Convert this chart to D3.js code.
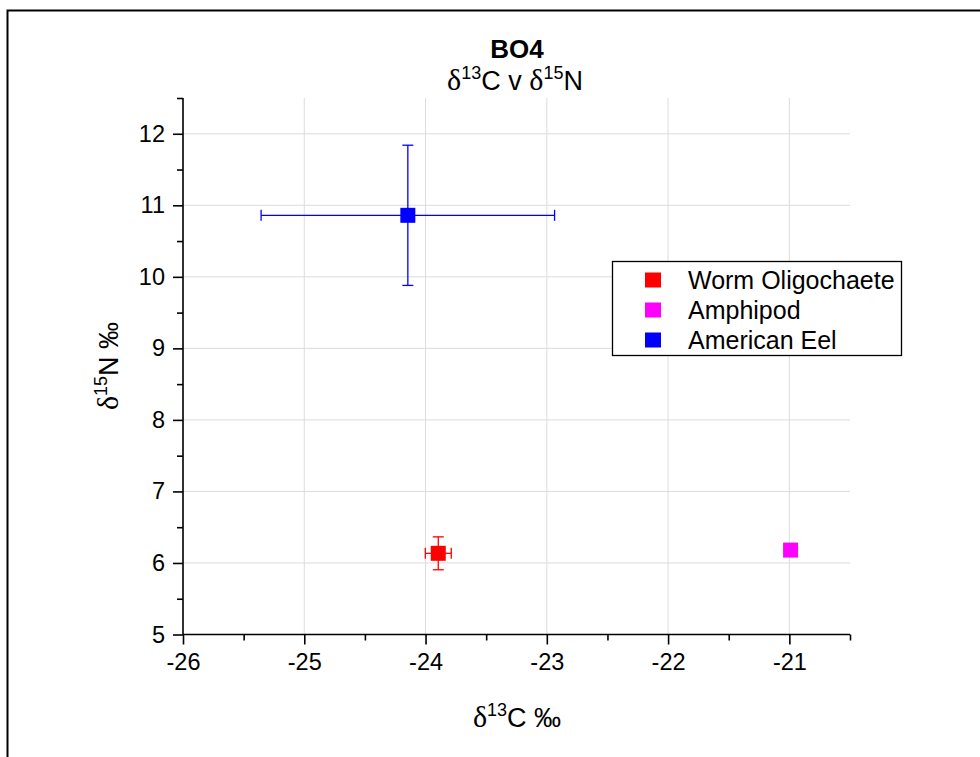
<!DOCTYPE html>
<html><head><meta charset="utf-8">
<script src="https://cdn.jsdelivr.net/npm/d3@7"></script>
<style>body{margin:0;background:#fff}svg{display:block;font-family:"Liberation Sans",Arial,sans-serif}</style>
</head><body>
<svg id="c" width="980" height="757"></svg>
<script>
const series = ["Worm Oligochaete", "Amphipod", "American Eel"];
const colors = ["#ff0000", "#ff00ff", "#0000ff"];
const xMean = [-23.895, -20.99, -24.146];
const yMean = [6.135, 6.18, 10.86];
const xErr = [0.107, 0, 1.21];
const yErr = [0.23, 0, 0.98];
const xTicks = [-26, -25, -24, -23, -22, -21];
const yTicks = [5, 6, 7, 8, 9, 10, 11, 12];

const svg = d3.select("#c");
const L = 183, R = 850, T = 98, B = 634.5;
const x = d3.scaleLinear().domain([-26, -20.5]).range([L, R]);
const y = d3.scaleLinear().domain([5, 12.5]).range([B, T]);

// outer frame
svg.append("rect").attr("x", 7.5).attr("y", 10.5).attr("width", 1000).attr("height", 800)
  .attr("fill", "none").attr("stroke", "#000").attr("stroke-width", 2);

// grid
const g = svg.append("g");
g.selectAll(".vg").data(xTicks).enter().append("line")
  .attr("x1", d => x(d)).attr("x2", d => x(d)).attr("y1", T).attr("y2", B)
  .attr("stroke", "#dcdcdc").attr("stroke-width", 1);
g.selectAll(".hg").data(yTicks).enter().append("line")
  .attr("y1", d => y(d)).attr("y2", d => y(d)).attr("x1", L).attr("x2", R)
  .attr("stroke", "#dcdcdc").attr("stroke-width", 1);

// axes
const fmt = d => String(d);
const xMinor = d3.range(-25.5, -20.4, 1);
const yMinor = d3.range(5.5, 12.6, 1);
const xAxis = svg.append("g").attr("transform", `translate(0,${B})`)
  .call(d3.axisBottom(x).tickValues(xTicks).tickSize(10).tickPadding(9).tickFormat(fmt));
svg.append("g").attr("transform", `translate(0,${B})`)
  .call(d3.axisBottom(x).tickValues(xMinor).tickSize(6).tickFormat(""))
  .select(".domain").remove();
const yAxis = svg.append("g").attr("transform", `translate(${L},0)`)
  .call(d3.axisLeft(y).tickValues(yTicks).tickSize(10).tickPadding(8).tickFormat(fmt));
svg.append("g").attr("transform", `translate(${L},0)`)
  .call(d3.axisLeft(y).tickValues(yMinor).tickSize(6).tickFormat(""))
  .select(".domain").remove();
xAxis.select(".domain").attr("d", `M${L},0H${R}`);
yAxis.select(".domain").attr("d", `M0,${B}V${T}`);
svg.selectAll(".domain, .tick line").attr("stroke", "#000").attr("stroke-width", 1.6);
svg.selectAll(".tick text").attr("font-size", 23.5).attr("fill", "#000")
  .attr("font-family", "Liberation Sans, Arial, sans-serif");

// error bars
const eb = svg.append("g");
const cap = 5.5;
series.forEach((s, i) => {
  if (yErr[i] > 0) {
    const cx = x(xMean[i]);
    eb.append("line").attr("x1", cx).attr("x2", cx).attr("y1", y(yMean[i] - yErr[i])).attr("y2", y(yMean[i] + yErr[i]))
      .attr("stroke", colors[i]).attr("stroke-width", 1.3);
    [yMean[i] - yErr[i], yMean[i] + yErr[i]].forEach(v => {
      eb.append("line").attr("x1", cx - cap).attr("x2", cx + cap).attr("y1", y(v)).attr("y2", y(v))
        .attr("stroke", colors[i]).attr("stroke-width", 1.3);
    });
  }
  if (xErr[i] > 0) {
    const cy = y(yMean[i]);
    eb.append("line").attr("y1", cy).attr("y2", cy).attr("x1", x(xMean[i] - xErr[i])).attr("x2", x(xMean[i] + xErr[i]))
      .attr("stroke", colors[i]).attr("stroke-width", 1.3);
    [xMean[i] - xErr[i], xMean[i] + xErr[i]].forEach(v => {
      eb.append("line").attr("y1", cy - cap).attr("y2", cy + cap).attr("x1", x(v)).attr("x2", x(v))
        .attr("stroke", colors[i]).attr("stroke-width", 1.3);
    });
  }
});

// markers
const ms = 15;
svg.append("g").selectAll("rect").data(series).enter().append("rect")
  .attr("x", (d, i) => x(xMean[i]) - ms / 2).attr("y", (d, i) => y(yMean[i]) - ms / 2)
  .attr("width", ms).attr("height", ms).attr("fill", (d, i) => colors[i]);

// titles
svg.append("text").attr("x", 517).attr("y", 58).attr("text-anchor", "middle")
  .attr("font-size", 26).attr("font-weight", "bold").text("BO4");
function deltaText(sel, iso, rest, fs) {
  sel.append("tspan").attr("font-family", "Liberation Serif, serif").attr("font-size", fs + 3).text("δ");
  sel.append("tspan").attr("font-size", Math.round(fs * 0.65)).attr("dy", -fs * 0.42).text(iso);
  sel.append("tspan").attr("dy", fs * 0.42).text(rest);
}
const sub = svg.append("text").attr("x", 515).attr("y", 90).attr("text-anchor", "middle").attr("font-size", 27);
deltaText(sub, "13", "C v ", 27);
sub.append("tspan").attr("font-family", "Liberation Serif, serif").attr("font-size", 30).text("δ");
sub.append("tspan").attr("font-size", 18).attr("dy", -11.3).text("15");
sub.append("tspan").attr("dy", 11.3).text("N");

const xt = svg.append("text").attr("x", 517).attr("y", 727).attr("text-anchor", "middle").attr("font-size", 27);
deltaText(xt, "13", "C ‰", 27);

const yt = svg.append("text").attr("transform", "translate(118,366) rotate(-90)").attr("text-anchor", "middle").attr("font-size", 27);
deltaText(yt, "15", "N ‰", 27);

// legend
const lg = svg.append("g");
lg.append("rect").attr("x", 612.5).attr("y", 261.5).attr("width", 289).attr("height", 94)
  .attr("fill", "#fff").attr("stroke", "#000").attr("stroke-width", 1.3);
series.forEach((s, i) => {
  const cy = 280 + i * 30;
  lg.append("rect").attr("x", 645).attr("y", cy - 7.5).attr("width", 16).attr("height", 15).attr("fill", colors[i]);
  lg.append("text").attr("x", 688).attr("y", cy + 8.5).attr("font-size", 25).attr("fill", "#000").text(s);
});
</script>
</body></html>
